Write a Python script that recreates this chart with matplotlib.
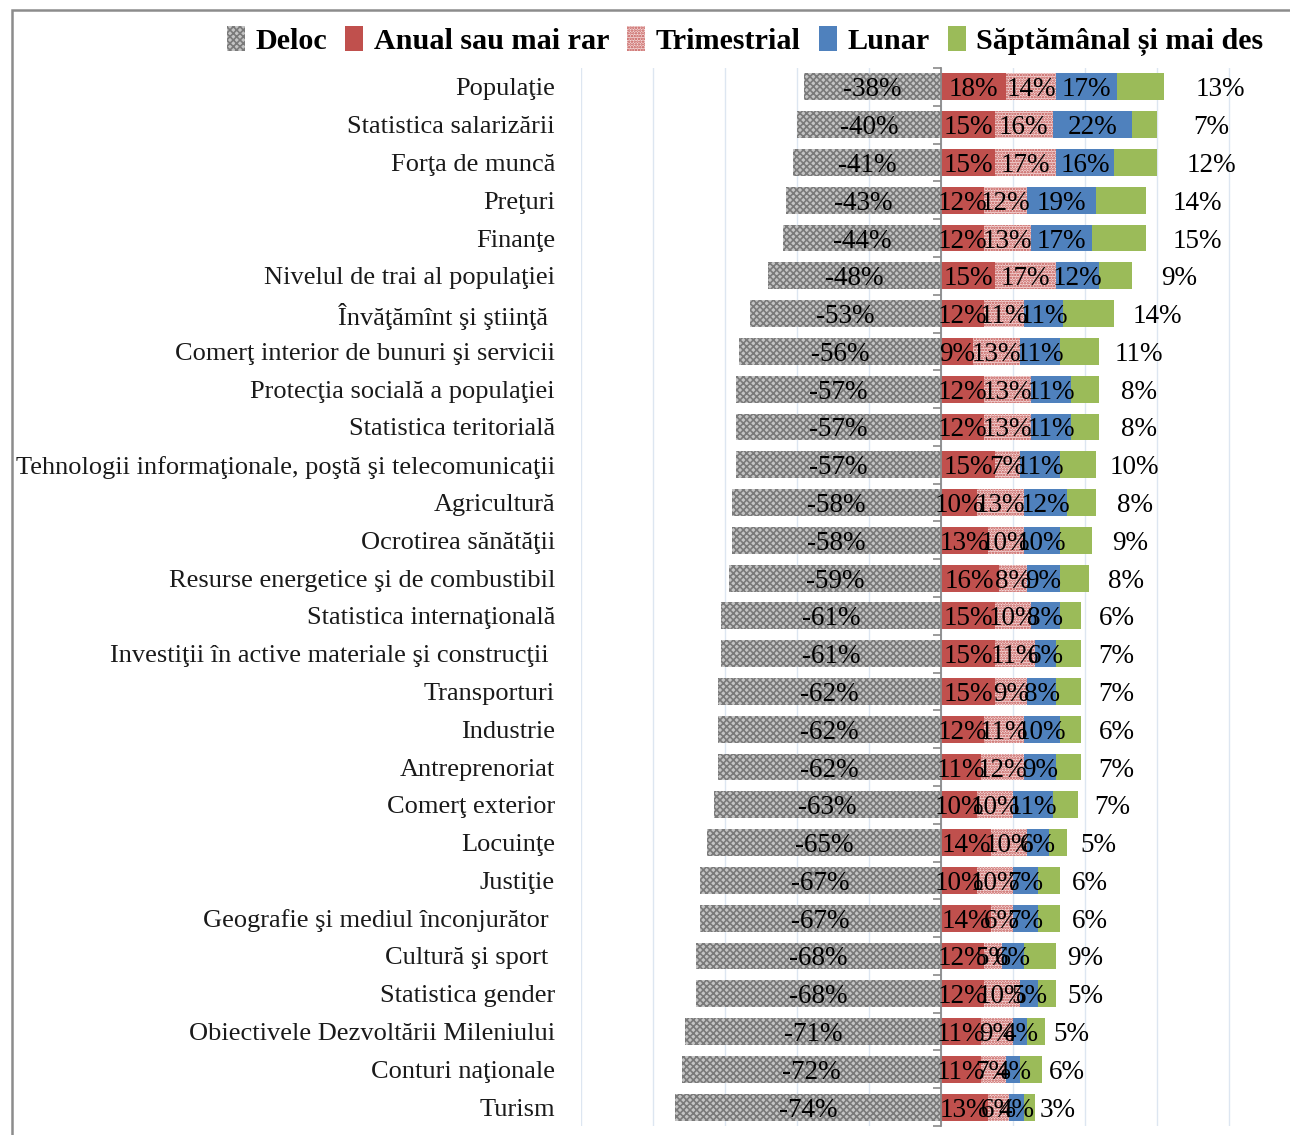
import matplotlib
matplotlib.use("Agg")
import matplotlib.pyplot as plt
import numpy as np
from matplotlib.patches import Rectangle, Patch

categories = [
    "Populaţie",
    "Statistica salarizării",
    "Forţa de muncă",
    "Preţuri",
    "Finanţe",
    "Nivelul de trai al populaţiei",
    "Învăţămînt şi ştiinţă ",
    "Comerţ interior de bunuri şi servicii",
    "Protecţia socială a populaţiei",
    "Statistica teritorială",
    "Tehnologii informaţionale, poştă şi telecomunicaţii",
    "Agricultură",
    "Ocrotirea sănătăţii",
    "Resurse energetice şi de combustibil",
    "Statistica internaţională",
    "Investiţii în active materiale şi construcţii ",
    "Transporturi",
    "Industrie",
    "Antreprenoriat",
    "Comerţ exterior",
    "Locuinţe",
    "Justiţie",
    "Geografie şi mediul înconjurător ",
    "Cultură şi sport ",
    "Statistica gender",
    "Obiectivele Dezvoltării Mileniului",
    "Conturi naţionale",
    "Turism",
]

deloc = [-38, -40, -41, -43, -44, -48, -53, -56, -57, -57, -57, -58, -58, -59,
         -61, -61, -62, -62, -62, -63, -65, -67, -67, -68, -68, -71, -72, -74]
anual = [18, 15, 15, 12, 12, 15, 12, 9, 12, 12, 15, 10, 13, 16,
         15, 15, 15, 12, 11, 10, 14, 10, 14, 12, 12, 11, 11, 13]
trimestrial = [14, 16, 17, 12, 13, 17, 11, 13, 13, 13, 7, 13, 10, 8,
               10, 11, 9, 11, 12, 10, 10, 10, 6, 5, 10, 9, 7, 6]
lunar = [17, 22, 16, 19, 17, 12, 11, 11, 11, 11, 11, 12, 10, 9,
         8, 6, 8, 10, 9, 11, 6, 7, 7, 6, 5, 4, 4, 4]
saptamanal = [13, 7, 12, 14, 15, 9, 14, 11, 8, 8, 10, 8, 9, 8,
              6, 7, 7, 6, 7, 7, 5, 6, 6, 9, 5, 5, 6, 3]

series_names = ["Deloc", "Anual sau mai rar", "Trimestrial", "Lunar",
                "Săptămânal și mai des"]

SERIF = "Liberation Serif"
LABEL_SIZE = 19.5
plt.rcParams["hatch.linewidth"] = 1.2
styles = [
    dict(facecolor="#c4c4c4", edgecolor="#7a7a7a", hatch="xxxxx"),
    dict(facecolor="#c0504d", edgecolor="#c0504d"),
    dict(facecolor="#f4d8d8", edgecolor="#c0504d", hatch="......"),
    dict(facecolor="#4f81bd", edgecolor="#4f81bd"),
    dict(facecolor="#9bbb59", edgecolor="#9bbb59"),
]

W, H = 1290, 1135
fig = plt.figure(figsize=(W / 100, H / 100), dpi=100)
ax = fig.add_axes([581 / W, 9 / H, 720 / W, 1058 / H])

y = np.arange(len(categories))
bar_h = 0.71
VA = "center_baseline"

# left side: "Deloc" as negative bar
ax.barh(y, deloc, height=bar_h, linewidth=0, **styles[0])
for yi, v in zip(y, deloc):
    ax.text(v / 2, yi, f"{v}%", ha="center", va=VA,
            fontsize=LABEL_SIZE, family=SERIF, color="black")

# right side: stacked positive frequencies
right_series = [anual, trimestrial, lunar, saptamanal]
left = np.zeros(len(categories))
for k, vals in enumerate(right_series):
    vals = np.array(vals)
    ax.barh(y, vals, left=left, height=bar_h, linewidth=0, **styles[k + 1])
    if k < 3:
        for yi, l, v in zip(y, left, vals):
            ax.text(l + v / 2, yi, f"{v}%", ha="center", va=VA,
                    fontsize=LABEL_SIZE, family=SERIF, color="black")
    left = left + vals

# labels of the last series sit to the right of each bar
for yi, tot, v in zip(y, left, saptamanal):
    ax.text(tot * 1.25, yi, f"{v}%", ha="center", va=VA,
            fontsize=LABEL_SIZE, family=SERIF, color="black")

ax.set_xlim(-100, 100)
ax.set_ylim(len(categories) - 0.5, -0.5)
ax.set_xticks(range(-100, 101, 20))
ax.tick_params(axis="x", length=0, labelbottom=False)
ax.grid(axis="x", color="#dde6f1", linewidth=1.0)
ax.set_axisbelow(True)

for s in ["top", "right", "bottom"]:
    ax.spines[s].set_visible(False)
ax.spines["left"].set_position(("data", 0))
ax.spines["left"].set_color("#8a8a8a")
ax.spines["left"].set_linewidth(1.3)
ax.set_yticks([])
ax.set_yticks(np.arange(-0.5, len(categories), 1.0), minor=True)
ax.tick_params(axis="y", which="minor", direction="out", length=6,
               width=1.2, color="#8a8a8a", labelleft=False)

for yi, c in zip(y, categories):
    ax.text(-0.036, yi, c, transform=ax.get_yaxis_transform(), ha="right",
            va=VA, fontsize=19, family=SERIF, color="#1a1a1a")

handles = [Patch(linewidth=0, **st) for st in styles]
fig.legend(handles, series_names, loc="center",
           bbox_to_anchor=(745 / W, 1 - 41 / H), ncol=5, frameon=False,
           prop={"family": SERIF, "weight": "bold", "size": 21.7},
           handlelength=0.6, handleheight=0.9, handletextpad=0.35,
           columnspacing=0.6, borderaxespad=0, borderpad=0)

# outer frame
fig.add_artist(Rectangle((11.5 / W, -0.5), 2.0, 0.5 + 1 - 10 / H,
                         transform=fig.transFigure, fill=False,
                         edgecolor="#8c8c8c", linewidth=1.8, clip_on=False))

fig.savefig("out.png", dpi=100)
